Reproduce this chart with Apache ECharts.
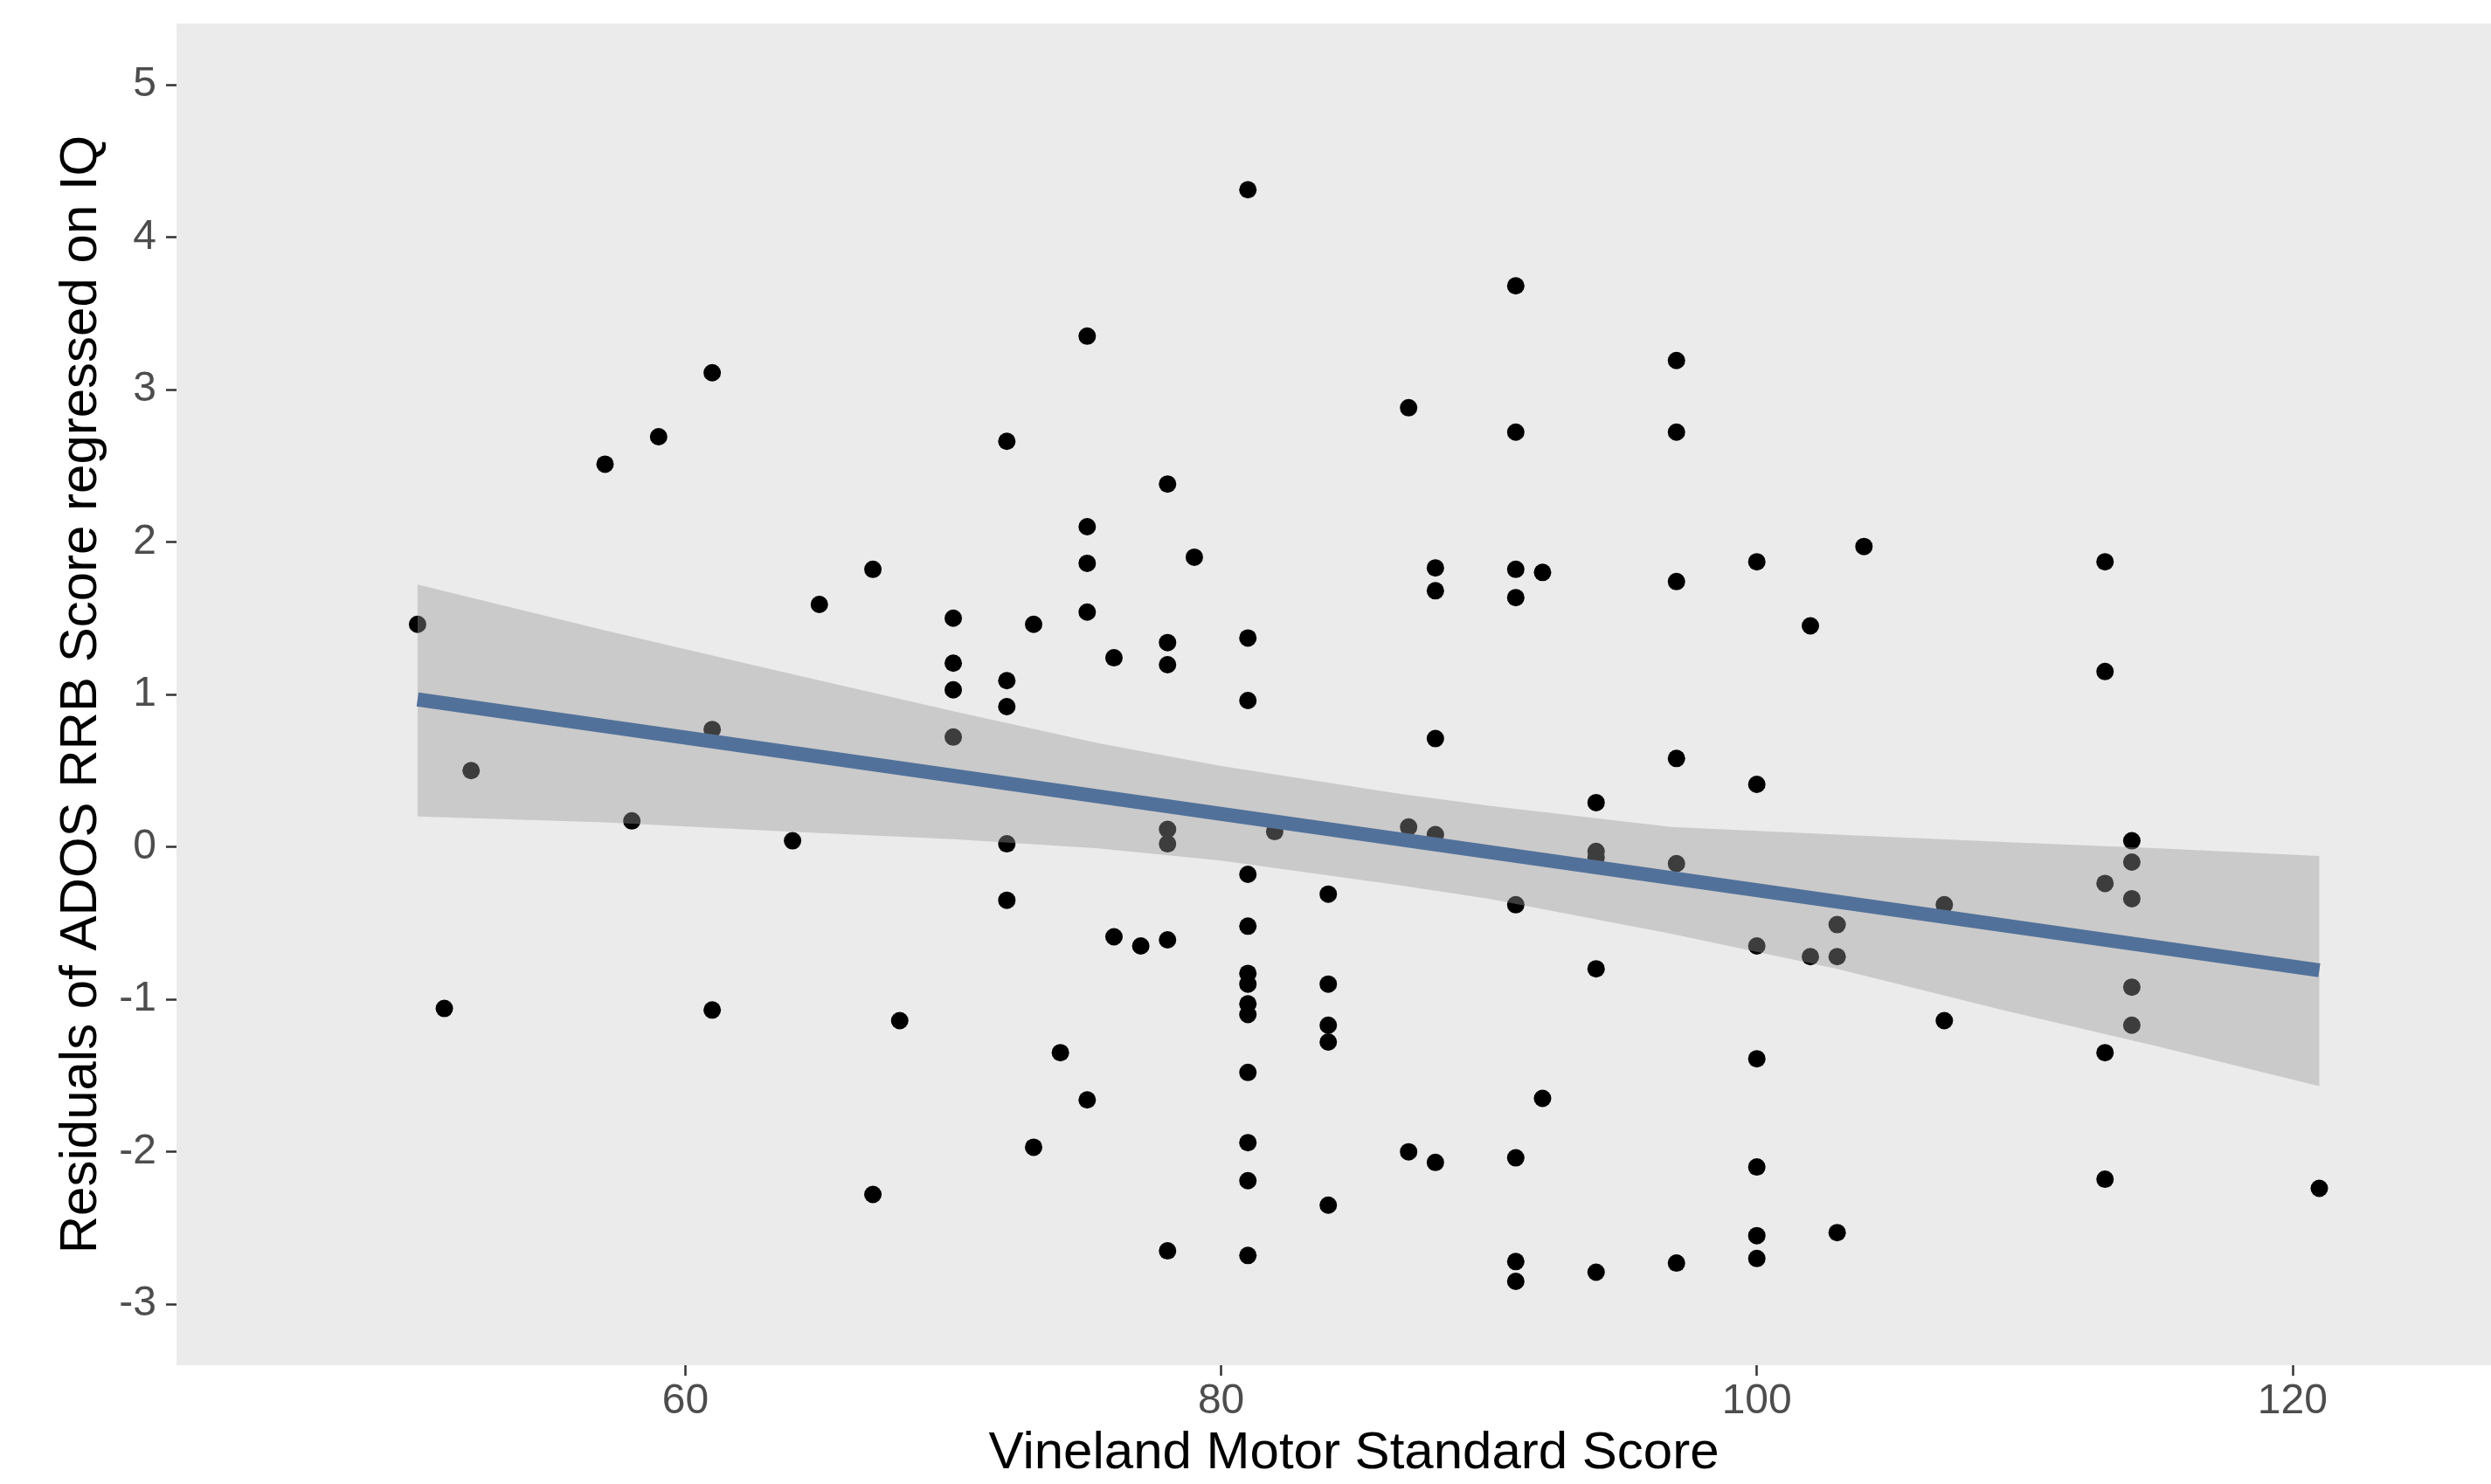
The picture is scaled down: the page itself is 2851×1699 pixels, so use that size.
<!DOCTYPE html>
<html><head><meta charset="utf-8">
<script src="https://cdn.jsdelivr.net/npm/echarts@6/dist/echarts.min.js"></script>
<style>html,body{margin:0;padding:0;background:#fff}#c{width:2851px;height:1699px}</style>
</head><body><div id="c"></div>
<script>
// Scatter points: Vineland Motor Standard Score (x) vs residuals (y)
const pointsX = [
  61, 59, 57, 50, 61,
  52, 58, 64, 51, 61,
  81, 75, 72, 78, 75, 79, 75, 67, 65, 70, 73, 75, 78, 78, 76, 81, 81, 70, 70, 72, 72, 70,
  72, 78, 78, 82, 81, 84, 72, 81, 76, 77, 78, 81, 81, 84, 81, 81, 84, 84, 68, 74, 81, 75, 73, 81, 81, 67, 84, 78, 81,
  91, 97, 87, 91, 97, 88, 88, 91, 91, 92, 97, 100, 104, 102, 88,
  113, 113,
  97, 100, 94, 87, 88, 94, 94, 97, 91, 107, 103, 100, 102, 103, 94, 107, 100, 92, 87, 88, 91, 100, 103, 100, 100, 97, 94, 91, 91,
  114, 114, 113, 114, 114, 114, 113, 113, 121
];
const pointsY = [
  3.11, 2.69, 2.51, 1.46, 0.77,
  0.50, 0.17, 0.04, -1.06, -1.07,
  4.31, 3.35, 2.66, 2.38, 2.10, 1.90, 1.86, 1.82, 1.59, 1.50, 1.46, 1.54, 1.34, 1.195, 1.24, 1.37, 0.96, 1.205, 1.03, 1.09, 0.92, 0.72,
  0.02, 0.115, 0.02, 0.10, -0.18, -0.31, -0.35, -0.52, -0.59, -0.65, -0.61, -0.83, -0.90, -0.90, -1.03, -1.10, -1.17, -1.28, -1.14, -1.35, -1.48, -1.66, -1.97, -1.94, -2.19, -2.28, -2.35, -2.65, -2.68,
  3.68, 3.19, 2.88, 2.72, 2.72, 1.83, 1.68, 1.82, 1.635, 1.80, 1.74, 1.87, 1.97, 1.45, 0.71,
  1.87, 1.15,
  0.58, 0.41, 0.29, 0.13, 0.08, -0.03, -0.07, -0.11, -0.38, -0.38, -0.51, -0.65, -0.72, -0.72, -0.80, -1.14, -1.39, -1.65, -2.00, -2.07, -2.04, -2.10, -2.53, -2.55, -2.70, -2.73, -2.79, -2.72, -2.85,
  0.04, -0.10, -0.24, -0.34, -0.92, -1.17, -1.35, -2.18, -2.24
];
// Fitted regression line (read at its ends)
const fitX = [50, 121];
const fitY = [0.967, -0.81];
// Confidence band
const bandX     = [50,   57,   63.8, 70,   75.4, 80,    86.6,  90,    96.8,  103,   109.4, 115,   121];
const bandUpper = [1.72, 1.42, 1.14, 0.89, 0.68, 0.53,  0.35,  0.27,  0.13,  0.08,  0.03,  -0.01, -0.06];
const bandLower = [0.20, 0.16, 0.10, 0.05, -0.01, -0.09, -0.25, -0.34, -0.57, -0.80, -1.08, -1.31, -1.57];
// Tick labels
const xTicks = [60, 80, 100, 120];
const yTicks = [-3, -2, -1, 0, 1, 2, 3, 4, 5];

const FONT = '"Liberation Sans", Arial, Helvetica, sans-serif';
const chart = echarts.init(document.getElementById('c'), null, {renderer: 'canvas'});

chart.setOption({
  animation: false,
  backgroundColor: '#FFFFFF',
  grid: {left: 202, right: 0, top: 27, bottom: 136, show: true, backgroundColor: '#EBEBEB', borderWidth: 0},
  xAxis: {
    type: 'value', min: 41, max: 127.41,
    splitLine: {show: false},
    axisLine: {show: false, onZero: false},
    axisTick: {show: true, length: 12, customValues: xTicks, lineStyle: {color: '#333333', width: 2.5}},
    axisLabel: {customValues: xTicks, fontSize: 48, color: '#4D4D4D', margin: 18, fontFamily: FONT},
    name: 'Vineland Motor Standard Score', nameLocation: 'middle', nameGap: 71,
    nameTextStyle: {fontSize: 60, color: '#000000', fontFamily: FONT, padding: [0, 0, 0, 46]}
  },
  yAxis: {
    type: 'value', min: -3.4, max: 5.4,
    splitLine: {show: false},
    axisLine: {show: false, onZero: false},
    axisTick: {show: true, length: 12, customValues: yTicks, lineStyle: {color: '#333333', width: 2.5}},
    axisLabel: {customValues: yTicks, fontSize: 48, color: '#4D4D4D', margin: 23, fontFamily: FONT},
    name: 'Residuals of ADOS RRB Score regressed on IQ', nameLocation: 'middle', nameGap: 79, nameRotate: 90,
    nameTextStyle: {fontSize: 60, color: '#000000', fontFamily: FONT}
  },
  series: [
    {
      type: 'scatter', z: 2,
      data: pointsX.map((x, i) => [x, pointsY[i]]),
      symbol: 'circle', symbolSize: 20,
      itemStyle: {color: '#000000', opacity: 1},
      emphasis: {disabled: true}
    },
    {
      type: 'custom', z: 3,
      data: bandX.map((x, i) => [x, bandLower[i], bandUpper[i]]),
      encode: {x: 0, y: [1, 2]},
      renderItem: function (params, api) {
        if (params.dataIndex !== 0) return null;
        const pts = [];
        for (let i = 0; i < bandX.length; i++) pts.push(api.coord([bandX[i], bandUpper[i]]));
        for (let i = bandX.length - 1; i >= 0; i--) pts.push(api.coord([bandX[i], bandLower[i]]));
        return {type: 'polygon', shape: {points: pts}, style: {fill: 'rgba(153,153,153,0.4)'}};
      }
    },
    {
      type: 'line', z: 4,
      data: fitX.map((x, i) => [x, fitY[i]]),
      showSymbol: false, symbol: 'none',
      lineStyle: {color: '#52719A', width: 16, cap: 'butt'}
    }
  ]
});
</script></body></html>
